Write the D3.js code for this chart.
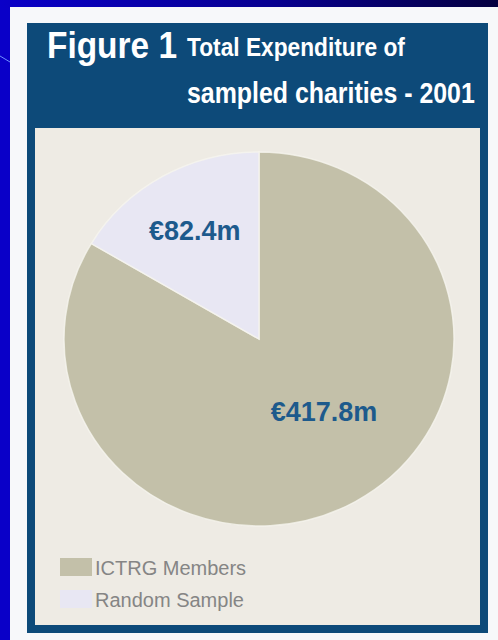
<!DOCTYPE html>
<html><head><meta charset="utf-8">
<script src="https://cdn.jsdelivr.net/npm/d3@7"></script>
<style>html,body{margin:0;padding:0;background:#0a00c8;}svg{display:block;}</style>
</head><body>
<script>
const categories = ["ICTRG Members", "Random Sample"];
const values = [417.8, 82.4];
const valueLabels = ["€417.8m", "€82.4m"];
const titleMain = "Figure 1";
const titleLines = ["Total Expenditure of", "sampled charities - 2001"];
const colors = ["#c3c0a9", "#e8e7f3"];

const W = 498, H = 640;
const svg = d3.select("body").append("svg").attr("width", W).attr("height", H);
const defs = svg.append("defs");
const grad = defs.append("linearGradient").attr("id", "topbar").attr("x1", 0).attr("x2", 1);
grad.append("stop").attr("offset", "0%").attr("stop-color", "#0a00c8");
grad.append("stop").attr("offset", "55%").attr("stop-color", "#080090");
grad.append("stop").attr("offset", "100%").attr("stop-color", "#050040");

svg.append("rect").attr("width", W).attr("height", H).attr("fill", "#0a00c8");
svg.append("rect").attr("width", W).attr("height", 8).attr("fill", "url(#topbar)");
svg.append("line").attr("x1", 0).attr("y1", 56).attr("x2", 10).attr("y2", 62)
  .attr("stroke", "#6f8fff").attr("stroke-width", 1);

// white panel
svg.append("rect").attr("x", 10).attr("y", 7).attr("width", 488).attr("height", 633).attr("fill", "#f7f8fa");
// navy frame
svg.append("rect").attr("x", 27).attr("y", 23).attr("width", 461).attr("height", 610).attr("fill", "#0d4a79");
// beige interior
svg.append("rect").attr("x", 35).attr("y", 128).attr("width", 445).attr("height", 497).attr("fill", "#eeebe4");

// title: narrow bold text, squeezed horizontally to the reference width
const tfont = "'Liberation Sans',Arial,sans-serif";
function narrowText(str, x, y, size, targetW) {
  const t = svg.append("text").text(str)
    .attr("font-family", tfont).attr("font-weight", "bold").attr("font-size", size)
    .attr("fill", "#ffffff");
  const w = t.node().getComputedTextLength();
  const sx = Math.min(1, targetW / w);
  t.attr("transform", `translate(${x},${y}) scale(${sx},1)`);
}
narrowText(titleMain, 47, 58, 37, 130);
narrowText(titleLines[0], 187, 56, 26, 218);
narrowText(titleLines[1], 187, 103, 29, 288);

// pie
const cx = 259, cy = 339, rx = 195, ry = 187;
const pie = d3.pie().sort(null).value(d => d)(values);
const arc = d3.arc().innerRadius(0).outerRadius(rx);
const g = svg.append("g").attr("transform", `translate(${cx},${cy}) scale(1,${ry / rx})`);
g.selectAll("path").data(pie).join("path")
  .attr("d", arc).attr("fill", (d, i) => colors[i])
  .attr("stroke", "#f6f5ef").attr("stroke-width", 1.5).attr("stroke-opacity", 0.8);

// value labels
const labelPos = pie.map((d, i) => {
  const mid = (d.startAngle + d.endAngle) / 2;
  const ang = i === 0 ? mid - 0.19 : mid;
  const r = i === 0 ? 100 : 130;
  const p = d3.pointRadial(ang, r);
  return [cx + p[0], cy + p[1] * ry / rx];
});
svg.selectAll("text.val").data(valueLabels).join("text").attr("class", "val")
  .attr("x", (d, i) => labelPos[i][0]).attr("y", (d, i) => labelPos[i][1])
  .attr("dy", "0.35em").attr("text-anchor", "middle")
  .attr("font-family", "'Liberation Sans',Arial,sans-serif").attr("font-weight", "bold")
  .attr("font-size", 27).attr("fill", "#1d5a8c").text(d => d);

// legend
const lg = svg.append("g").attr("transform", "translate(60,558)");
categories.forEach((c, i) => {
  const row = lg.append("g").attr("transform", `translate(0,${i * 32})`);
  row.append("rect").attr("width", 32).attr("height", 18).attr("fill", colors[i]);
  row.append("text").attr("x", 35).attr("y", 17).text(c)
    .attr("font-family", "'Liberation Sans',Arial,sans-serif").attr("font-size", 20)
    .attr("fill", "#858585");
});
</script>
</body></html>
